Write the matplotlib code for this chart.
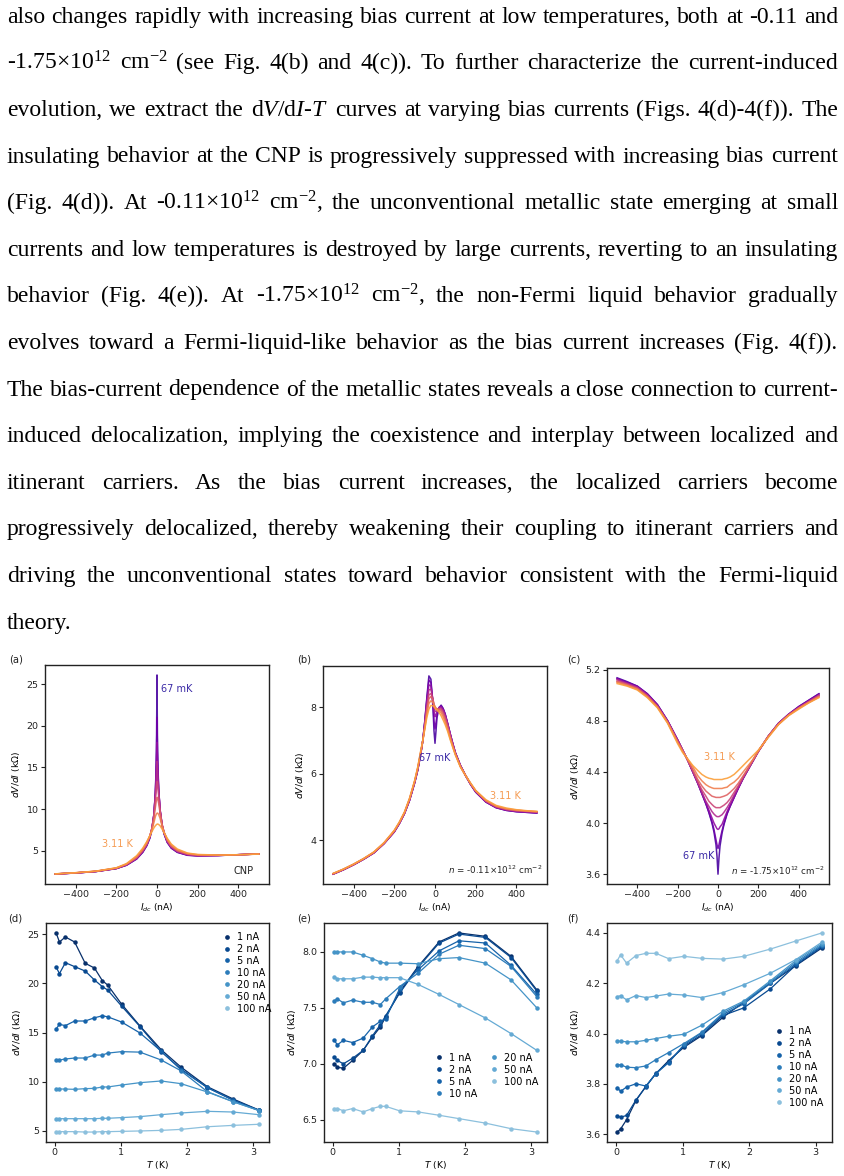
import numpy as np
import matplotlib
matplotlib.use('Agg')
import matplotlib.pyplot as plt
from matplotlib.lines import Line2D

plt.rcParams['mathtext.fontset'] = 'custom'
plt.rcParams['mathtext.rm'] = 'Liberation Serif'
plt.rcParams['mathtext.it'] = 'Liberation Serif:italic'
plt.rcParams['mathtext.bf'] = 'Liberation Serif:bold'
plt.rcParams['font.family'] = ['DejaVu Sans']

# ---------------- paragraph text ----------------
para_lines = [
    "also changes rapidly with increasing bias current at low temperatures, both at -0.11 and",
    "-1.75×10$^{12}$ cm$^{-2}$ (see Fig. 4(b) and 4(c)). To further characterize the current-induced",
    "evolution, we extract the d$V$/d$I$-$T$ curves at varying bias currents (Figs. 4(d)-4(f)). The",
    "insulating behavior at the CNP is progressively suppressed with increasing bias current",
    "(Fig. 4(d)). At -0.11×10$^{12}$ cm$^{-2}$, the unconventional metallic state emerging at small",
    "currents and low temperatures is destroyed by large currents, reverting to an insulating",
    "behavior (Fig. 4(e)). At -1.75×10$^{12}$ cm$^{-2}$, the non-Fermi liquid behavior gradually",
    "evolves toward a Fermi-liquid-like behavior as the bias current increases (Fig. 4(f)).",
    "The bias-current dependence of the metallic states reveals a close connection to current-",
    "induced delocalization, implying the coexistence and interplay between localized and",
    "itinerant carriers. As the bias current increases, the localized carriers become",
    "progressively delocalized, thereby weakening their coupling to itinerant carriers and",
    "driving the unconventional states toward behavior consistent with the Fermi-liquid",
    "theory.",
]

# ---------------- panel (a): CNP ----------------
I_a = [-500, -400, -300, -200, -150, -100, -70, -50, -35, -25, -15, -8, -4, -2, 0,
       2, 4, 8, 15, 25, 35, 50, 70, 100, 150, 200, 300, 400, 500]
a_067mK = [2.20, 2.33, 2.50, 2.85, 3.25, 4.00, 4.80, 5.60, 6.50, 7.50, 9.30, 12.0, 15.5, 19.0, 26.1,
           19.0, 15.8, 12.5, 9.80, 8.00, 7.00, 6.00, 5.30, 4.80, 4.45, 4.38, 4.42, 4.52, 4.62]
a_T1 = [2.20, 2.33, 2.50, 2.86, 3.27, 4.03, 4.85, 5.65, 6.60, 7.60, 9.40, 12.0, 14.8, 17.0, 21.0,
        17.0, 15.0, 12.5, 9.90, 8.05, 7.05, 6.05, 5.35, 4.83, 4.47, 4.39, 4.43, 4.52, 4.62]
a_T2 = [2.20, 2.33, 2.51, 2.87, 3.29, 4.07, 4.90, 5.70, 6.65, 7.65, 9.40, 11.9, 14.2, 15.8, 18.0,
        16.0, 14.4, 12.4, 9.95, 8.10, 7.10, 6.10, 5.40, 4.87, 4.50, 4.40, 4.43, 4.52, 4.61]
a_T3 = [2.21, 2.34, 2.52, 2.88, 3.31, 4.10, 4.95, 5.75, 6.70, 7.70, 9.35, 11.6, 13.4, 14.6, 15.7,
        15.0, 13.8, 12.2, 9.95, 8.15, 7.15, 6.15, 5.45, 4.90, 4.53, 4.42, 4.44, 4.52, 4.61]
a_T4 = [2.21, 2.34, 2.52, 2.89, 3.34, 4.15, 5.00, 5.80, 6.75, 7.70, 9.20, 11.0, 12.3, 12.9, 13.3,
        13.2, 12.6, 11.6, 9.80, 8.15, 7.20, 6.20, 5.50, 4.95, 4.57, 4.45, 4.45, 4.52, 4.61]
a_T5 = [2.21, 2.35, 2.53, 2.91, 3.37, 4.20, 5.08, 5.88, 6.80, 7.65, 8.90, 10.2, 10.9, 11.2, 11.4,
        11.4, 11.2, 10.7, 9.55, 8.10, 7.20, 6.30, 5.57, 5.02, 4.62, 4.48, 4.46, 4.52, 4.60]
a_T6 = [2.22, 2.35, 2.54, 2.93, 3.41, 4.30, 5.20, 6.00, 6.80, 7.50, 8.40, 9.10, 9.35, 9.45, 9.50,
        9.52, 9.50, 9.35, 8.90, 7.95, 7.20, 6.40, 5.70, 5.10, 4.67, 4.52, 4.47, 4.52, 4.60]
a_311K = [2.22, 2.36, 2.55, 2.95, 3.45, 4.40, 5.30, 6.10, 6.80, 7.30, 7.75, 8.00, 8.10, 8.15, 8.18,
          8.20, 8.20, 8.15, 8.00, 7.60, 7.15, 6.50, 5.80, 5.20, 4.72, 4.55, 4.48, 4.52, 4.60]

# ---------------- panel (b): n = -0.11e12 ----------------
I_b = [-500, -450, -400, -350, -300, -250, -200, -175, -150, -125,
       -100, -85, -70, -60, -50, -40, -30, -20, -10, -5,
       0, 5, 10, 20, 30, 40, 50, 62, 75, 87,
       100, 125, 150, 175, 200, 250, 300, 350, 400, 450, 500]
b_067mK = [2.98, 3.11, 3.26, 3.43, 3.62, 3.90, 4.25, 4.50, 4.80, 5.20,
           5.72, 6.10, 6.60, 7.00, 7.60, 8.30, 8.95, 8.85, 8.00, 7.30,
           6.92, 7.30, 7.70, 7.98, 8.07, 7.97, 7.80, 7.52, 7.20, 6.92,
           6.64, 6.25, 5.95, 5.68, 5.45, 5.15, 4.98, 4.90, 4.86, 4.84, 4.82]
b_T1 = [2.98, 3.11, 3.26, 3.43, 3.62, 3.90, 4.25, 4.50, 4.80, 5.20,
        5.73, 6.11, 6.60, 7.00, 7.58, 8.25, 8.83, 8.75, 8.10, 7.60,
        7.35, 7.55, 7.80, 8.00, 8.05, 7.96, 7.80, 7.52, 7.20, 6.92,
        6.64, 6.25, 5.95, 5.68, 5.45, 5.15, 4.98, 4.90, 4.86, 4.84, 4.82]
b_T2 = [2.98, 3.11, 3.26, 3.43, 3.62, 3.90, 4.26, 4.51, 4.81, 5.21,
        5.74, 6.12, 6.61, 7.00, 7.55, 8.18, 8.68, 8.65, 8.20, 7.90,
        7.72, 7.78, 7.88, 8.00, 8.02, 7.94, 7.78, 7.51, 7.19, 6.91,
        6.63, 6.25, 5.95, 5.68, 5.46, 5.16, 4.99, 4.91, 4.87, 4.85, 4.83]
b_T3 = [2.99, 3.12, 3.27, 3.44, 3.63, 3.91, 4.26, 4.52, 4.81, 5.22,
        5.75, 6.13, 6.62, 6.99, 7.50, 8.08, 8.53, 8.55, 8.25, 8.00,
        7.88, 7.88, 7.92, 7.98, 7.98, 7.90, 7.75, 7.49, 7.17, 6.90,
        6.62, 6.24, 5.95, 5.69, 5.47, 5.17, 5.00, 4.92, 4.88, 4.86, 4.84]
b_T4 = [2.99, 3.12, 3.27, 3.44, 3.63, 3.91, 4.27, 4.52, 4.82, 5.23,
        5.76, 6.14, 6.63, 6.99, 7.46, 7.98, 8.38, 8.42, 8.25, 8.08,
        7.98, 7.95, 7.95, 7.96, 7.94, 7.85, 7.70, 7.45, 7.14, 6.88,
        6.61, 6.23, 5.95, 5.70, 5.48, 5.18, 5.01, 4.93, 4.89, 4.87, 4.85]
b_T5 = [2.99, 3.12, 3.27, 3.44, 3.64, 3.92, 4.28, 4.53, 4.83, 5.24,
        5.77, 6.16, 6.65, 6.99, 7.42, 7.90, 8.26, 8.33, 8.22, 8.10,
        8.02, 7.98, 7.96, 7.94, 7.90, 7.79, 7.63, 7.40, 7.10, 6.85,
        6.60, 6.22, 5.95, 5.70, 5.49, 5.19, 5.02, 4.94, 4.90, 4.88, 4.86]
b_T6 = [3.00, 3.13, 3.28, 3.45, 3.64, 3.92, 4.29, 4.54, 4.84, 5.25,
        5.78, 6.18, 6.67, 7.00, 7.38, 7.80, 8.12, 8.20, 8.15, 8.08,
        8.02, 7.97, 7.94, 7.90, 7.84, 7.72, 7.56, 7.34, 7.06, 6.82,
        6.58, 6.21, 5.95, 5.71, 5.49, 5.20, 5.03, 4.95, 4.91, 4.88, 4.86]
b_311K = [3.00, 3.13, 3.28, 3.45, 3.65, 3.93, 4.30, 4.55, 4.85, 5.27,
          5.80, 6.20, 6.70, 7.00, 7.35, 7.70, 7.95, 8.06, 8.05, 8.02,
          7.98, 7.95, 7.92, 7.85, 7.75, 7.62, 7.48, 7.28, 7.02, 6.80,
          6.57, 6.20, 5.95, 5.72, 5.50, 5.22, 5.05, 4.97, 4.92, 4.89, 4.87]

# ---------------- panel (c): n = -1.75e12 ----------------
I_c = [-500, -450, -400, -350, -300, -250, -200, -175, -150, -125,
       -100, -80, -60, -45, -30, -20, -10, -5, 0, 5,
       10, 20, 30, 45, 60, 80, 100, 125, 150, 175,
       200, 250, 300, 350, 400, 450, 500]
c_067mK = [5.135, 5.105, 5.07, 5.01, 4.925, 4.80, 4.65, 4.57, 4.49, 4.40,
           4.31, 4.23, 4.15, 4.08, 4.00, 3.93, 3.83, 3.74, 3.60, 3.73,
           3.82, 3.92, 3.99, 4.07, 4.13, 4.20, 4.27, 4.35, 4.42, 4.49,
           4.56, 4.68, 4.78, 4.85, 4.91, 4.96, 5.01]
c_T1 = [5.13, 5.10, 5.07, 5.01, 4.925, 4.80, 4.65, 4.57, 4.49, 4.40,
        4.31, 4.23, 4.15, 4.085, 4.01, 3.95, 3.87, 3.83, 3.80, 3.83,
        3.87, 3.94, 4.00, 4.075, 4.13, 4.20, 4.27, 4.35, 4.42, 4.49,
        4.56, 4.68, 4.78, 4.85, 4.91, 4.96, 5.01]
c_T2 = [5.125, 5.095, 5.065, 5.005, 4.92, 4.80, 4.65, 4.57, 4.49, 4.40,
        4.31, 4.235, 4.16, 4.10, 4.04, 4.00, 3.97, 3.955, 3.95, 3.955,
        3.97, 3.99, 4.03, 4.09, 4.14, 4.205, 4.27, 4.35, 4.42, 4.49,
        4.56, 4.68, 4.78, 4.85, 4.905, 4.955, 5.00]
c_T3 = [5.12, 5.09, 5.06, 5.00, 4.915, 4.795, 4.645, 4.57, 4.49, 4.405,
        4.32, 4.24, 4.17, 4.13, 4.09, 4.07, 4.055, 4.05, 4.05, 4.05,
        4.055, 4.065, 4.085, 4.12, 4.16, 4.22, 4.28, 4.355, 4.425, 4.49,
        4.56, 4.68, 4.775, 4.845, 4.90, 4.95, 5.00]
c_T4 = [5.11, 5.085, 5.055, 4.995, 4.91, 4.79, 4.64, 4.565, 4.49, 4.41,
        4.32, 4.26, 4.21, 4.17, 4.145, 4.13, 4.12, 4.12, 4.12, 4.12,
        4.12, 4.13, 4.14, 4.16, 4.19, 4.24, 4.29, 4.36, 4.43, 4.495,
        4.56, 4.68, 4.775, 4.845, 4.90, 4.95, 4.995]
c_T5 = [5.105, 5.08, 5.05, 4.99, 4.91, 4.79, 4.635, 4.565, 4.49, 4.42,
        4.34, 4.29, 4.25, 4.23, 4.21, 4.205, 4.20, 4.20, 4.20, 4.20,
        4.20, 4.205, 4.21, 4.22, 4.24, 4.27, 4.31, 4.37, 4.43, 4.50,
        4.565, 4.68, 4.775, 4.845, 4.90, 4.945, 4.99]
c_T6 = [5.10, 5.075, 5.045, 4.985, 4.905, 4.785, 4.63, 4.56, 4.50, 4.44,
        4.37, 4.33, 4.30, 4.285, 4.275, 4.27, 4.27, 4.27, 4.27, 4.27,
        4.27, 4.27, 4.275, 4.28, 4.30, 4.32, 4.35, 4.40, 4.45, 4.50,
        4.565, 4.675, 4.77, 4.84, 4.895, 4.94, 4.985]
c_311K = [5.09, 5.07, 5.04, 4.98, 4.90, 4.78, 4.62, 4.55, 4.50, 4.45,
          4.41, 4.38, 4.36, 4.35, 4.345, 4.34, 4.34, 4.34, 4.34, 4.34,
          4.34, 4.34, 4.345, 4.35, 4.36, 4.38, 4.41, 4.45, 4.49, 4.53,
          4.57, 4.67, 4.77, 4.84, 4.89, 4.94, 4.98]

# ---------------- panel (d)-(f): dV/dI vs T ----------------
current_labels = ['1 nA', '2 nA', '5 nA', '10 nA', '20 nA', '50 nA', '100 nA']
T_de = [0.02, 0.07, 0.16, 0.30, 0.46, 0.60, 0.72, 0.80, 1.01, 1.29, 1.61, 1.91, 2.31, 2.70, 3.09]
T_f = [0.02, 0.07, 0.16, 0.30, 0.45, 0.60, 0.79, 1.02, 1.29, 1.61, 1.92, 2.32, 2.70, 3.09]

d_1nA = [25.14, 24.22, 24.73, 24.22, 22.05, 21.57, 20.28, 19.84, 17.90, 15.66, 13.25, 11.48, 9.48, 8.23, 7.10]
d_2nA = [21.67, 21.00, 22.11, 21.71, 21.26, 20.35, 19.67, 19.33, 17.70, 15.60, 13.05, 11.29, 9.38, 8.12, 7.10]
d_5nA = [15.36, 15.83, 15.70, 16.17, 16.17, 16.50, 16.70, 16.60, 16.07, 14.95, 13.10, 11.20, 9.40, 8.10, 7.05]
d_10nA = [12.20, 12.20, 12.30, 12.40, 12.40, 12.70, 12.70, 12.90, 13.05, 13.00, 12.20, 11.10, 8.97, 7.95, 7.07]
d_20nA = [9.24, 9.24, 9.24, 9.21, 9.28, 9.31, 9.45, 9.45, 9.65, 9.89, 10.06, 9.79, 8.94, 7.95, 7.05]
d_50nA = [6.22, 6.22, 6.22, 6.22, 6.22, 6.22, 6.26, 6.26, 6.33, 6.43, 6.63, 6.80, 6.97, 6.90, 6.63]
d_100nA = [4.90, 4.90, 4.90, 4.90, 4.86, 4.86, 4.90, 4.90, 4.93, 4.97, 5.03, 5.13, 5.40, 5.54, 5.65]

e_1nA = [7.00, 6.97, 6.96, 7.03, 7.12, 7.24, 7.33, 7.42, 7.64, 7.87, 8.09, 8.17, 8.14, 7.96, 7.66]
e_2nA = [7.06, 7.03, 7.00, 7.05, 7.12, 7.25, 7.35, 7.43, 7.63, 7.86, 8.08, 8.16, 8.13, 7.95, 7.65]
e_5nA = [7.21, 7.17, 7.21, 7.19, 7.23, 7.33, 7.38, 7.40, 7.67, 7.84, 8.01, 8.10, 8.08, 7.88, 7.62]
e_10nA = [7.565, 7.58, 7.545, 7.57, 7.55, 7.55, 7.53, 7.58, 7.69, 7.81, 7.98, 8.06, 8.03, 7.87, 7.60]
e_20nA = [8.00, 8.00, 8.00, 8.00, 7.97, 7.94, 7.91, 7.90, 7.90, 7.895, 7.94, 7.95, 7.90, 7.75, 7.50]
e_50nA = [7.78, 7.76, 7.76, 7.76, 7.775, 7.775, 7.77, 7.77, 7.77, 7.71, 7.62, 7.53, 7.41, 7.27, 7.12]
e_100nA = [6.60, 6.60, 6.58, 6.60, 6.57, 6.60, 6.62, 6.62, 6.58, 6.57, 6.54, 6.51, 6.47, 6.42, 6.39]

f_1nA = [3.608, 3.620, 3.657, 3.733, 3.790, 3.840, 3.892, 3.945, 3.992, 4.065, 4.125, 4.200, 4.270, 4.340]
f_2nA = [3.672, 3.667, 3.674, 3.735, 3.788, 3.842, 3.886, 3.950, 3.996, 4.072, 4.102, 4.178, 4.272, 4.345]
f_5nA = [3.785, 3.770, 3.787, 3.800, 3.791, 3.840, 3.884, 3.955, 4.003, 4.076, 4.118, 4.200, 4.277, 4.348]
f_10nA = [3.874, 3.876, 3.866, 3.864, 3.871, 3.896, 3.924, 3.960, 4.005, 4.082, 4.125, 4.205, 4.283, 4.352]
f_20nA = [3.970, 3.969, 3.967, 3.967, 3.973, 3.980, 3.989, 3.997, 4.033, 4.089, 4.129, 4.210, 4.290, 4.357]
f_50nA = [4.147, 4.150, 4.134, 4.151, 4.143, 4.149, 4.157, 4.153, 4.143, 4.163, 4.194, 4.240, 4.294, 4.363]
f_100nA = [4.290, 4.313, 4.280, 4.310, 4.319, 4.319, 4.298, 4.307, 4.299, 4.296, 4.307, 4.336, 4.368, 4.400]

# ---------------- figure ----------------
W, H = 845, 1176
fig = plt.figure(figsize=(W / 100, H / 100), dpi=100)
renderer = fig.canvas.get_renderer()

# paragraph, justified
FS = 17
L, R = 7, 838
base0, step = 22.7, 46.6
for i, line in enumerate(para_lines):
    words = line.split(' ')
    y = 1 - (base0 + i * step) / H
    texts = [fig.text(0, y, w, fontsize=FS, family='Liberation Serif', va='baseline', ha='left',
                      math_fontfamily='custom') for w in words]
    widths = [t.get_window_extent(renderer).width for t in texts]
    if i < len(para_lines) - 1 and len(words) > 1:
        gap = (R - L - sum(widths)) / (len(words) - 1)
    else:
        gap = 5.0
    x = L
    for t, w in zip(texts, widths):
        t.set_x(x / W)
        x += w + gap


def add_ax(left, right, top, bottom):
    return fig.add_axes([left / W, 1 - bottom / H, (right - left) / W, (bottom - top) / H])


ax_a = add_ax(45, 269, 665, 884)
ax_b = add_ax(323, 547, 666, 884)
ax_c = add_ax(607, 829, 668, 884)
ax_d = add_ax(46, 269, 923, 1142)
ax_e = add_ax(324, 547, 923, 1142)
ax_f = add_ax(607, 832, 923, 1142)

TICK_FS = 6.8
LAB_FS = 6.6
MF = 'dejavusans'

for ax in [ax_a, ax_b, ax_c, ax_d, ax_e, ax_f]:
    ax.tick_params(labelsize=TICK_FS, length=2.6, width=0.8, pad=2, colors='#222222')
    for s in ax.spines.values():
        s.set_linewidth(1.0)
        s.set_color('#222222')

plasma = plt.get_cmap('plasma')
tcols = [plasma(v) for v in np.linspace(0.12, 0.78, 8)]
col_cold = '#3b2aa6'
col_warm = '#f59b52'

for ax, I, curves in [
    (ax_a, I_a, [a_067mK, a_T1, a_T2, a_T3, a_T4, a_T5, a_T6, a_311K]),
    (ax_b, I_b, [b_067mK, b_T1, b_T2, b_T3, b_T4, b_T5, b_T6, b_311K]),
    (ax_c, I_c, [c_067mK, c_T1, c_T2, c_T3, c_T4, c_T5, c_T6, c_311K]),
]:
    for k, cv in enumerate(curves):
        ax.plot(I, cv, color=tcols[k], lw=1.1, alpha=0.9)
    ax.set_xticks([-400, -200, 0, 200, 400])
    ax.set_xlabel(r'$I_{dc}$ (nA)', fontsize=LAB_FS, math_fontfamily=MF, labelpad=1.5)
    ax.set_ylabel(r'$dV/dI$ (k$\Omega$)', fontsize=LAB_FS, math_fontfamily=MF, labelpad=3)

ax_a.set_yticks([5, 10, 15, 20, 25])
ax_b.set_yticks([4, 6, 8])
ax_c.set_yticks([3.6, 4.0, 4.4, 4.8, 5.2])

ANN_FS = 7
ax_a.text(0.59, 0.889, '67 mK', transform=ax_a.transAxes, color=col_cold, fontsize=ANN_FS, ha='center', va='center')
ax_a.text(0.322, 0.181, '3.11 K', transform=ax_a.transAxes, color=col_warm, fontsize=ANN_FS, ha='center', va='center')
ax_a.text(0.93, 0.059, 'CNP', transform=ax_a.transAxes, color='#222222', fontsize=ANN_FS, ha='right', va='center')

ax_b.text(0.50, 0.579, '67 mK', transform=ax_b.transAxes, color=col_cold, fontsize=ANN_FS, ha='center', va='center')
ax_b.text(0.814, 0.405, '3.11 K', transform=ax_b.transAxes, color=col_warm, fontsize=ANN_FS, ha='center', va='center')
ax_b.text(0.98, 0.063, r'$n$ = -0.11×10$^{12}$ cm$^{-2}$', transform=ax_b.transAxes, color='#222222',
          fontsize=6.3, ha='right', va='center', math_fontfamily=MF)

ax_c.text(0.507, 0.587, '3.11 K', transform=ax_c.transAxes, color=col_warm, fontsize=ANN_FS, ha='center', va='center')
ax_c.text(0.411, 0.131, '67 mK', transform=ax_c.transAxes, color=col_cold, fontsize=ANN_FS, ha='center', va='center')
ax_c.text(0.982, 0.06, r'$n$ = -1.75×10$^{12}$ cm$^{-2}$', transform=ax_c.transAxes, color='#222222',
          fontsize=6.3, ha='right', va='center', math_fontfamily=MF)

blues = plt.get_cmap('Blues')
bcols = [blues(v) for v in np.linspace(1.0, 0.42, 7)]

for ax, T, series in [
    (ax_d, T_de, [d_1nA, d_2nA, d_5nA, d_10nA, d_20nA, d_50nA, d_100nA]),
    (ax_e, T_de, [e_1nA, e_2nA, e_5nA, e_10nA, e_20nA, e_50nA, e_100nA]),
    (ax_f, T_f, [f_1nA, f_2nA, f_5nA, f_10nA, f_20nA, f_50nA, f_100nA]),
]:
    for k, s in enumerate(series):
        ax.plot(T, s, '-o', color=bcols[k], lw=0.9, ms=3.2, mew=0)
    ax.set_xticks([0, 1, 2, 3])
    ax.set_xlabel(r'$T$ (K)', fontsize=LAB_FS, math_fontfamily=MF, labelpad=1.5)
    ax.set_ylabel(r'$dV/dI$ (k$\Omega$)', fontsize=LAB_FS, math_fontfamily=MF, labelpad=3)

ax_d.set_yticks([5, 10, 15, 20, 25])
ax_e.set_yticks([6.5, 7.0, 7.5, 8.0])
ax_f.set_yticks([3.6, 3.8, 4.0, 4.2, 4.4])

handles = [Line2D([], [], ls='none', marker='o', ms=3.4, mew=0, color=c) for c in bcols]
leg_kw = dict(frameon=False, fontsize=7, handlelength=1.0, handletextpad=0.55, labelspacing=0.2,
              borderpad=0, borderaxespad=0, loc='upper left')
ax_d.legend(handles, current_labels, bbox_to_anchor=(0.788, 0.959), **leg_kw)
ax_e.legend(handles, current_labels, bbox_to_anchor=(0.495, 0.407), ncol=2, columnspacing=1.2, **leg_kw)
ax_f.legend(handles, current_labels, bbox_to_anchor=(0.743, 0.529), **leg_kw)

# panel letters
for lbl, xp, yp in [('(a)', 9.3, 660), ('(b)', 296.7, 660), ('(c)', 566.7, 660),
                    ('(d)', 8.3, 918.3), ('(e)', 296.7, 918.3), ('(f)', 566.7, 918.3)]:
    fig.text(xp / W, 1 - yp / H, lbl, fontsize=7.2, ha='left', va='center', color='#222222')

fig.savefig('out.png', dpi=100)
